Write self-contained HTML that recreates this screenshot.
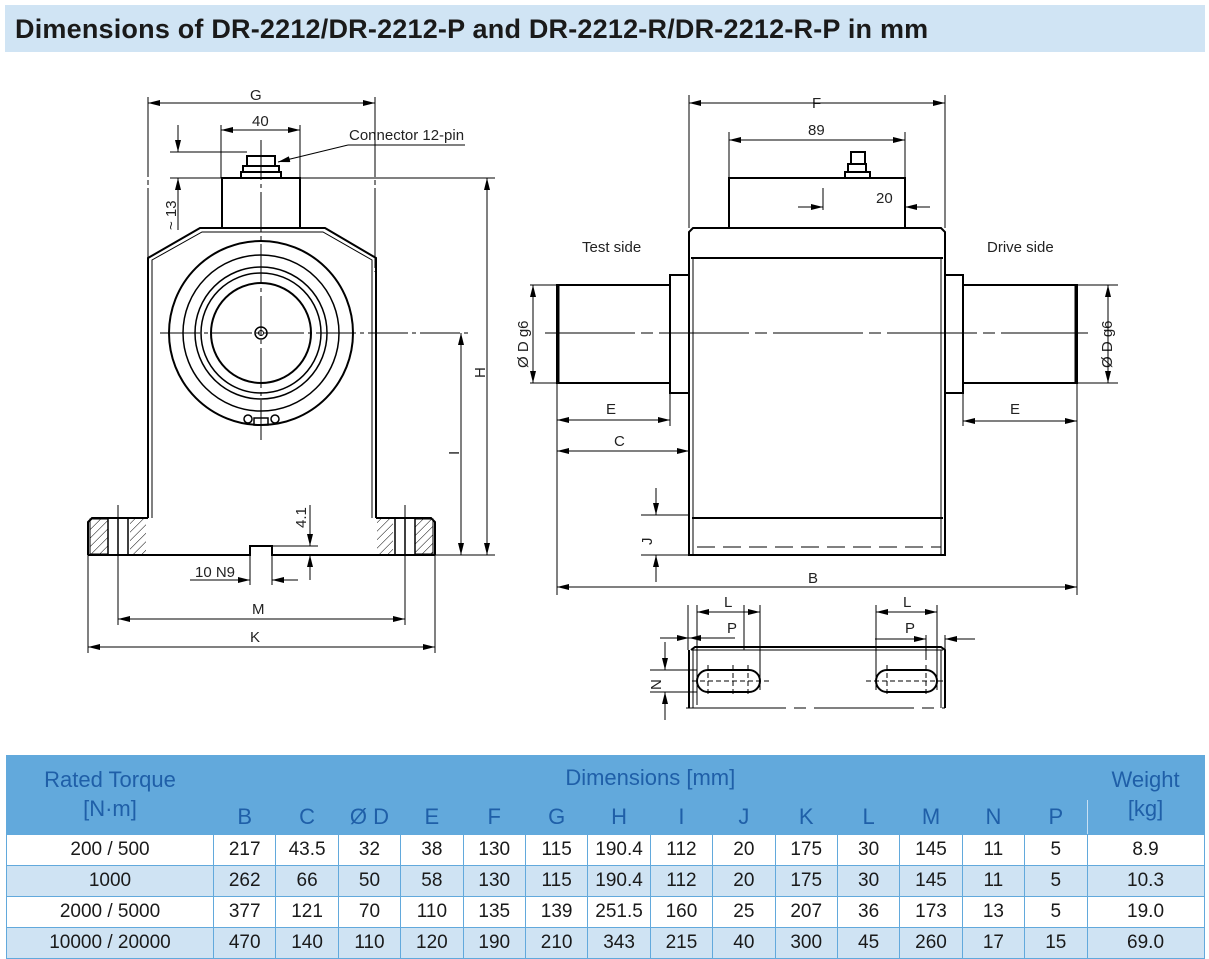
<!DOCTYPE html>
<html><head><meta charset="utf-8"><style>
body{margin:0;width:1209px;height:958px;background:#fff;position:relative;overflow:hidden;font-family:"Liberation Sans",sans-serif}
.title{position:absolute;left:5px;top:5px;width:1200px;height:47px;background:#d0e4f4;font-weight:bold;font-size:27px;letter-spacing:0.2px;line-height:49px;color:#1a1a1a;box-sizing:border-box;padding-left:10px;white-space:nowrap}
svg{position:absolute;left:0;top:0}
table{position:absolute;left:6px;top:755px;border-collapse:collapse;font-size:19px;color:#1a1a1a;table-layout:fixed;width:1198px}
td{border:1px solid #62a9dc;text-align:center;padding:0;height:30px}
.h td{background:#62a9dc;color:#1f5fa8;border-color:#62a9dc;font-size:22px}
.h td.l{border-left:1px solid #c8e0f3}
tr.a td{background:#cfe3f3}
</style></head><body>
<div class="title">Dimensions of DR-2212/DR-2212-P and DR-2212-R/DR-2212-R-P in mm</div>
<svg width="1209" height="958" viewBox="0 0 1209 958" fill="none" stroke="#000" stroke-width="1">
<defs>
<marker id="ar" viewBox="0 0 12 6" refX="12" refY="3" markerWidth="12" markerHeight="6" orient="auto-start-reverse" markerUnits="userSpaceOnUse"><path d="M0,0L12,3L0,6z" fill="#000" stroke="none"/></marker>
<pattern id="hat" width="6" height="6" patternUnits="userSpaceOnUse" patternTransform="rotate(45)"><line x1="0" y1="0" x2="0" y2="6" stroke="#000" stroke-width="1"/></pattern>
</defs>
<g font-family="Liberation Sans Narrow, Liberation Sans, sans-serif" font-size="15" fill="#222" stroke="none">
<text x="250" y="100">G</text><text x="252" y="126">40</text><text x="349" y="140">Connector 12-pin</text>
<text x="252" y="614">M</text><text x="250" y="642">K</text><text x="195" y="577">10  N9</text>
<text x="812" y="108">F</text><text x="808" y="135">89</text><text x="876" y="203">20</text>
<text x="582" y="252">Test side</text><text x="987" y="252">Drive side</text>
<text x="606" y="414">E</text><text x="1010" y="414">E</text><text x="614" y="446">C</text>
<text x="808" y="583">B</text><text x="724" y="607">L</text><text x="903" y="607">L</text><text x="727" y="633">P</text><text x="905" y="633">P</text>
<text transform="translate(485,378) rotate(-90)">H</text>
<text transform="translate(459,455) rotate(-90)">I</text>
<text transform="translate(176,230) rotate(-90)">~ 13</text>
<text transform="translate(306,528) rotate(-90)">4.1</text>
<text transform="translate(528,368) rotate(-90)">Ø D g6</text>
<text transform="translate(1112,368) rotate(-90)">Ø D g6</text>
<text transform="translate(652,545) rotate(-90)">J</text>
<text transform="translate(661,690) rotate(-90)">N</text>
</g>
<g stroke-width="2">
<path d="M148,518V258L200,228H325L376,258V518"/>
<path d="M152,518V260L202,232H323L372,260V518" stroke-width="1"/>
<rect x="222" y="178" width="78" height="50"/>
<path d="M241,178V172H281V178M243,172V166H279V172M247,166V156H275V166"/>
<circle cx="261" cy="333" r="92"/><circle cx="261" cy="333" r="78" stroke-width="1.5"/>
<circle cx="261" cy="333" r="66" stroke-width="1.5"/><circle cx="261" cy="333" r="60" stroke-width="1.5"/><circle cx="261" cy="333" r="50"/>
<circle cx="261" cy="333" r="6" stroke-width="1.5"/><circle cx="261" cy="333" r="2.5" stroke-width="1"/>
<circle cx="248" cy="419" r="4" stroke-width="1.5"/><circle cx="275" cy="419" r="4" stroke-width="1.5"/>
<path d="M88,555V522L92,518H148M376,518H431L435,522V555M88,555H250V546H272V555H435"/>
<path d="M254,418h14v7h-14z" stroke-width="1.5"/>
</g>
<rect x="90" y="519" width="18" height="35" fill="url(#hat)" stroke="#000" stroke-width="1"/>
<rect x="130" y="519" width="16" height="35" fill="url(#hat)" stroke="none"/>
<rect x="377" y="519" width="16" height="35" fill="url(#hat)" stroke="none"/>
<rect x="415" y="519" width="18" height="35" fill="url(#hat)" stroke="#000" stroke-width="1"/>
<path d="M108,519V555M118,519V555M128,519V555M395,519V555M405,519V555M415,519V555" stroke-width="1.5"/>
<g stroke-width="1">
<path d="M148,97V258M375,97V272" stroke-dasharray="80,3,5,3"/>
<path d="M261,140V440M160,333H470" stroke-dasharray="40,4,4,4"/>
<line x1="148" y1="103" x2="375" y2="103" marker-start="url(#ar)" marker-end="url(#ar)"/>
<path d="M221,125V178M300,125V178"/><line x1="221" y1="130" x2="300" y2="130" marker-start="url(#ar)" marker-end="url(#ar)"/>
<path d="M170,152H247M170,178H495M316,555H495M348,145H465"/><path d="M348,145L278,162" marker-end="url(#ar)"/>
<line x1="178" y1="125" x2="178" y2="152" marker-end="url(#ar)"/><line x1="178" y1="230" x2="178" y2="178" marker-end="url(#ar)"/>
<line x1="487" y1="555" x2="487" y2="178" marker-start="url(#ar)" marker-end="url(#ar)"/>
<line x1="461" y1="555" x2="461" y2="333" marker-start="url(#ar)" marker-end="url(#ar)"/>
<path d="M118,505V625M405,505V625M88,555V653M435,555V653M250,555V585M272,555V585M272,546H318"/>
<line x1="118" y1="619" x2="405" y2="619" marker-start="url(#ar)" marker-end="url(#ar)"/>
<line x1="88" y1="647" x2="435" y2="647" marker-start="url(#ar)" marker-end="url(#ar)"/>
<line x1="190" y1="580" x2="250" y2="580" marker-end="url(#ar)"/><line x1="298" y1="580" x2="272" y2="580" marker-end="url(#ar)"/>
<line x1="310" y1="505" x2="310" y2="546" marker-end="url(#ar)"/><line x1="310" y1="580" x2="310" y2="555" marker-end="url(#ar)"/>
</g>
<g stroke-width="2">
<path d="M689,555V232L693,228H941L945,232V555Z"/><path d="M691,258H943M692,518H943"/>
<path d="M693,258V555M941,258V555" stroke-width="1"/>
<rect x="729" y="178" width="176" height="50"/>
<path d="M845,178V172H870V178M848,172V164H866V172M851,164V152H865V164"/>
<rect x="670" y="275" width="19" height="118"/><rect x="945" y="275" width="18" height="118"/>
<rect x="557" y="285" width="113" height="98"/><rect x="963" y="285" width="114" height="98"/>
<path d="M558,285V383M1076,285V383" stroke-width="3"/>
<path d="M691,650L695,647H941L945,650V708M689,708V650"/>
<path d="M692,650H943M693,650V708M941,650V708" stroke-width="1"/>
<rect x="697" y="670" width="63" height="22" rx="11"/><rect x="876" y="670" width="61" height="22" rx="11"/>
</g>
<g stroke-width="1">
<path d="M545,333H1088" stroke-dasharray="90,6,12,6"/>
<path d="M697,547H941" stroke-dasharray="18,8"/>
<path d="M686,708H945" stroke-dasharray="100,8,12,8"/>
<path d="M689,95V228M945,95V228M729,132V178M905,132V178M823,188V210"/>
<line x1="689" y1="103" x2="945" y2="103" marker-start="url(#ar)" marker-end="url(#ar)"/>
<line x1="729" y1="140" x2="905" y2="140" marker-start="url(#ar)" marker-end="url(#ar)"/>
<line x1="798" y1="207" x2="823" y2="207" marker-end="url(#ar)"/><line x1="930" y1="207" x2="905" y2="207" marker-end="url(#ar)"/>
<path d="M557,383V595M670,383V426M963,393V426M1077,383V595M689,393V458M1077,285H1118M1077,383H1118M530,285H557M530,383H557"/>
<line x1="557" y1="420" x2="670" y2="420" marker-start="url(#ar)" marker-end="url(#ar)"/>
<line x1="963" y1="421" x2="1077" y2="421" marker-start="url(#ar)" marker-end="url(#ar)"/>
<line x1="557" y1="451" x2="689" y2="451" marker-start="url(#ar)" marker-end="url(#ar)"/>
<line x1="557" y1="587" x2="1077" y2="587" marker-start="url(#ar)" marker-end="url(#ar)"/>
<line x1="1108" y1="285" x2="1108" y2="383" marker-start="url(#ar)" marker-end="url(#ar)"/>
<line x1="533" y1="285" x2="533" y2="383" marker-start="url(#ar)" marker-end="url(#ar)"/>
<path d="M641,515H689M641,555H689"/>
<line x1="656" y1="488" x2="656" y2="515" marker-end="url(#ar)"/><line x1="656" y1="582" x2="656" y2="555" marker-end="url(#ar)"/>
<path d="M688,605V650M744,605V650M697,605V705M760,605V690M876,605V690M937,605V690M926,635V660M945,635V650"/>
<line x1="697" y1="612" x2="760" y2="612" marker-start="url(#ar)" marker-end="url(#ar)"/>
<line x1="876" y1="612" x2="937" y2="612" marker-start="url(#ar)" marker-end="url(#ar)"/>
<line x1="660" y1="638" x2="689" y2="638" marker-end="url(#ar)"/><line x1="735" y1="638" x2="689" y2="638" marker-end="url(#ar)"/>
<line x1="875" y1="639" x2="926" y2="639" marker-end="url(#ar)"/><line x1="975" y1="639" x2="945" y2="639" marker-end="url(#ar)"/>
<path d="M650,670H697M650,692H697"/>
<line x1="665" y1="642" x2="665" y2="670" marker-end="url(#ar)"/><line x1="665" y1="720" x2="665" y2="692" marker-end="url(#ar)"/>
<path d="M692,681H770M866,681H945M708,665V697M733,665V697M748,665V697M887,665V697M926,665V697" stroke-dasharray="5,3"/>
</g>
</svg>
<table>
<colgroup><col style="width:207px"><col span="14" style="width:62.4px"><col style="width:117px"></colgroup>
<tr class="h"><td rowspan="2" style="height:78px;line-height:1.3">Rated Torque<br>[N·m]</td><td colspan="14" style="height:38px;vertical-align:middle" class="l">Dimensions [mm]</td><td rowspan="2" style="line-height:1.3" class="l">Weight<br>[kg]</td></tr>
<tr class="h"><td class="l">B</td><td class="l">C</td><td class="l">Ø D</td><td class="l">E</td><td class="l">F</td><td class="l">G</td><td class="l">H</td><td class="l">I</td><td class="l">J</td><td class="l">K</td><td class="l">L</td><td class="l">M</td><td class="l">N</td><td class="l">P</td></tr>
<tr><td>200 / 500</td><td>217</td><td>43.5</td><td>32</td><td>38</td><td>130</td><td>115</td><td>190.4</td><td>112</td><td>20</td><td>175</td><td>30</td><td>145</td><td>11</td><td>5</td><td>8.9</td></tr>
<tr class="a"><td>1000</td><td>262</td><td>66</td><td>50</td><td>58</td><td>130</td><td>115</td><td>190.4</td><td>112</td><td>20</td><td>175</td><td>30</td><td>145</td><td>11</td><td>5</td><td>10.3</td></tr>
<tr><td>2000 / 5000</td><td>377</td><td>121</td><td>70</td><td>110</td><td>135</td><td>139</td><td>251.5</td><td>160</td><td>25</td><td>207</td><td>36</td><td>173</td><td>13</td><td>5</td><td>19.0</td></tr>
<tr class="a"><td>10000 / 20000</td><td>470</td><td>140</td><td>110</td><td>120</td><td>190</td><td>210</td><td>343</td><td>215</td><td>40</td><td>300</td><td>45</td><td>260</td><td>17</td><td>15</td><td>69.0</td></tr>
</table>
</body></html>
